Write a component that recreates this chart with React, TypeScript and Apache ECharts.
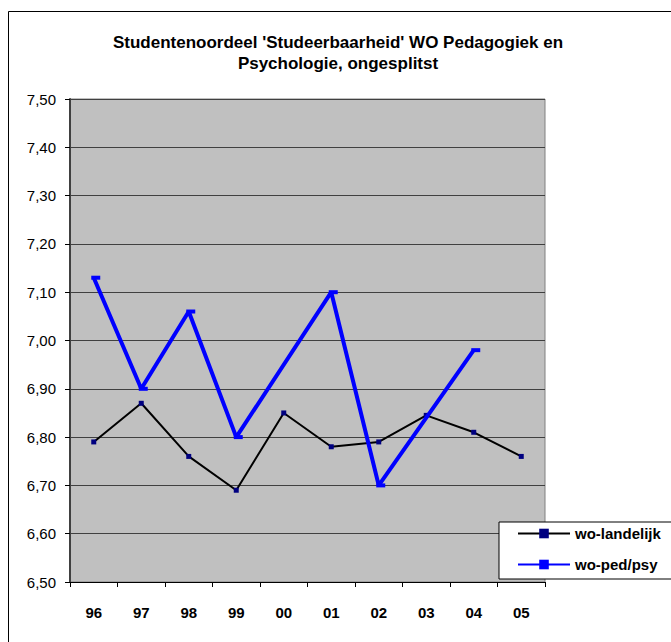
import React, { useEffect, useRef } from "react";
import * as echarts from "echarts";

const categories = ["96", "97", "98", "99", "00", "01", "02", "03", "04", "05"];
const woLandelijk = [6.79, 6.87, 6.76, 6.69, 6.85, 6.78, 6.79, 6.845, 6.81, 6.76];
const woPedPsy: (number | null)[] = [7.13, 6.9, 7.06, 6.8, null, 7.1, 6.7, null, 6.98, null];
const titleText = "Studentenoordeel 'Studeerbaarheid' WO Pedagogiek en\nPsychologie, ongesplitst";
const yMin = 6.5;
const yMax = 7.5;
const yStep = 0.1;

const FONT = "'Liberation Sans', Arial, sans-serif";

export default function App() {
  const ref = useRef<HTMLDivElement>(null);
  useEffect(() => {
    if (!ref.current) return;
    const chart = echarts.init(ref.current, null, { renderer: "svg" });
    chart.setOption({
      animation: false,
      backgroundColor: "#ffffff",
      textStyle: { fontFamily: FONT },
      title: {
        text: titleText,
        left: 333,
        textAlign: "center",
        top: 27,
        textStyle: {
          fontFamily: FONT,
          fontSize: 17,
          fontWeight: "bold",
          color: "#000",
          lineHeight: 21,
        },
      },
      graphic: [
        {
          type: "rect",
          shape: { x: 8.5, y: 11.5, width: 720, height: 700 },
          style: { fill: "none", stroke: "#000", lineWidth: 1 },
          silent: true,
          z: -1,
        },
      ],
      legend: {
        orient: "vertical",
        left: 499,
        top: 522,
        backgroundColor: "#ffffff",
        borderColor: "#000",
        borderWidth: 1,
        padding: [4, 80, 7, 18],
        itemGap: 16,
        itemWidth: 52,
        itemHeight: 12,
        textStyle: { fontFamily: FONT, fontSize: 15, fontWeight: "bold", color: "#000" },
        data: ["wo-landelijk", "wo-ped/psy"],
      },
      grid: {
        left: 70,
        top: 99,
        right: 126,
        bottom: 60,
        show: true,
        backgroundColor: "#C0C0C0",
        borderColor: "#808080",
        borderWidth: 1,
      },
      xAxis: {
        type: "category",
        data: categories,
        boundaryGap: true,
        axisLine: { show: true, lineStyle: { color: "#000", width: 1 } },
        axisTick: { show: true, length: 5, lineStyle: { color: "#000" } },
        axisLabel: {
          margin: 23,
          fontFamily: FONT,
          fontSize: 15,
          fontWeight: "bold",
          color: "#000",
        },
        splitLine: { show: false },
      },
      yAxis: {
        type: "value",
        min: yMin,
        max: yMax,
        interval: yStep,
        axisLine: { show: true, lineStyle: { color: "#404040", width: 2 } },
        axisTick: { show: true, length: 5, lineStyle: { color: "#000" } },
        axisLabel: {
          margin: 14,
          fontFamily: FONT,
          fontSize: 15,
          color: "#000",
          formatter: (v: number) => v.toFixed(2).replace(".", ","),
        },
        splitLine: { show: true, lineStyle: { color: "#404040", width: 1 } },
      },
      series: [
        {
          name: "wo-landelijk",
          type: "line",
          data: woLandelijk,
          color: "#000000",
          lineStyle: { color: "#000000", width: 2 },
          symbol: "rect",
          symbolSize: 5,
          itemStyle: { color: "#000080" },
          showAllSymbol: true,
          z: 2,
        },
        {
          name: "wo-ped/psy",
          type: "line",
          data: woPedPsy,
          connectNulls: true,
          color: "#0000FF",
          lineStyle: { color: "#0000FF", width: 4 },
          symbol: "rect",
          symbolSize: [9, 4],
          symbolOffset: [2, 0],
          itemStyle: { color: "#0000FF" },
          showAllSymbol: true,
          z: 3,
        },
      ],
    });
    return () => chart.dispose();
  }, []);
  return (
    <div
      ref={ref}
      style={{ position: "absolute", left: 0, top: 0, width: 671, height: 642 }}
    />
  );
}
